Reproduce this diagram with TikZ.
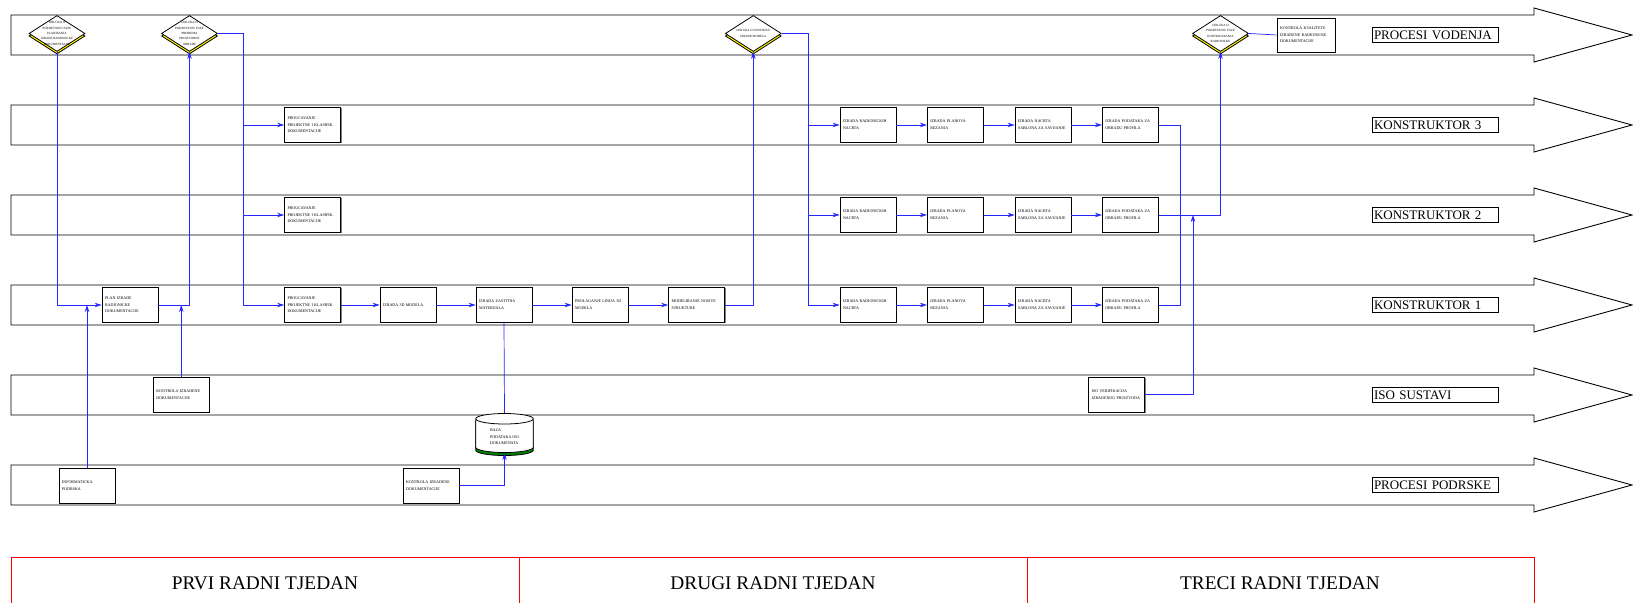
\documentclass[tikz,border=0pt]{standalone}
\usepackage{fontspec}
\setmainfont{Liberation Serif}
\usetikzlibrary{shapes.geometric,shadows,arrows.meta}
\begin{document}
\begin{tikzpicture}[x=0.2mm,y=-0.2mm,>={Stealth[length=1.4mm,width=0.9mm]},
    flow/.style={blue!85!white,line width=0.4pt},
    lane/.style={draw=black,line width=0.5pt,fill=white},
    lanelabel/.style={draw,line width=0.45pt,font=\fontsize{7.4}{8}\selectfont,text width=24.4mm,inner sep=0.4mm,minimum height=3mm,align=left},
    task/.style={draw,fill=white,line width=0.45pt,font=\fontsize{2.3}{3.8}\selectfont,text width=10mm,inner sep=0.6mm,minimum height=7mm,align=left,
        drop shadow={shadow xshift=0.2mm,shadow yshift=-0.2mm,opacity=1,fill=gray}},
    decision/.style={diamond,draw,fill=white,line width=0.45pt,minimum width=11.2mm,minimum height=7.2mm,inner sep=0pt,
        copy shadow={shadow xshift=0mm,shadow yshift=-0.5mm,fill=yellow,draw=black,line width=0.45pt,opacity=1}},
    dtext/.style={font=\fontsize{1.8}{3}\selectfont,align=center,inner sep=0pt},
    store/.style={cylinder,shape border rotate=90,aspect=0.3,draw,fill=white,line width=0.45pt,minimum width=11.5mm,minimum height=7.8mm,
        font=\fontsize{2.3}{3.8}\selectfont,align=left,inner sep=0.6mm,
        copy shadow={shadow xshift=0mm,shadow yshift=-0.6mm,fill=green!50!black,draw=black,line width=0.45pt,opacity=1}},
    week/.style={font=\fontsize{11}{13}\selectfont}]
\useasboundingbox (0,0) rectangle (1633,603);
% lanes
\foreach \y/\lane/\txt in {35/vod/PROCESI VODENJA,125/k3/KONSTRUKTOR 3,215/k2/KONSTRUKTOR 2,305/k1/KONSTRUKTOR 1,395/iso/ISO SUSTAVI,485/pod/PROCESI PODRSKE}{
    \draw[lane] (11,\y-20) -- (1534,\y-20) -- (1534,\y-27) -- (1632,\y) -- (1534,\y+27) -- (1534,\y+20) -- (11,\y+20) -- cycle;
    \node[lanelabel] (lbl-\lane) at (1435,\y) {\txt};
}
% weeks
\draw[red,line width=0.5pt] (11,603) -- (11,557) -- (1534,557) -- (1534,603);
\draw[red,line width=0.5pt] (519,557) -- (519,603) (1027,557) -- (1027,603);
\node[week] (w1) at (265,583) {PRVI RADNI TJEDAN};
\node[week] (w2) at (773,583) {DRUGI RADNI TJEDAN};
\node[week] (w3) at (1280,583) {TRECI RADNI TJEDAN};
% decisions
\node[decision,label={[dtext]center:{ODLUKA O\\POKRETANJU FAZE\\PLANIRANJA\\IZRADE RADIONICKE\\DOKUMENTACIJE}}] (d1) at (57,33.5) {};
\node[decision,label={[dtext]center:{ODLUKA O\\POKRETANJU FAZE\\PRIPREMA\\PROIZVODNE\\OBRADE}}] (d2) at (189.5,33.5) {};
\node[decision,label={[dtext]center:{ODLUKA O NASTAVKU\\IZRADE MODELA}}] (d3) at (753.3,33.5) {};
\node[decision,label={[dtext]center:{ODLUKA O\\POKRETANJU FAZE\\KONTROLIRANJA\\RADIONICKE}}] (d4) at (1220.5,33.5) {};
\node[task,minimum width=11.6mm,text width=10.4mm,minimum height=6.8mm] (kk) at (1306,35) {KONTROLA KVALITETE\\IZRADENE RADIONICKE\\DOKUMENTACIJE};
% tasks
\node[task] (plan) at (130,305) {PLAN IZRADE\\RADIONICKE\\DOKUMENTACIJE};
\node[task] (p3) at (312.5,125) {PROUCAVANJE\\PROJEKTNE I KLASIFIK.\\DOKUMENTACIJE};
\node[task] (p2) at (312.5,215) {PROUCAVANJE\\PROJEKTNE I KLASIFIK.\\DOKUMENTACIJE};
\node[task] (p1) at (312.5,305) {PROUCAVANJE\\PROJEKTNE I KLASIFIK.\\DOKUMENTACIJE};
\node[task] (m1) at (408,305) {IZRADA 3D MODELA};
\node[task] (m2) at (504,305) {IZRADA ZASTITNA\\MATERIJALA};
\node[task] (m3) at (600,305) {PROLAGANJE LINIJA 3D\\MODELA};
\node[task] (m4) at (696.5,305) {MODELIRANJE NOSIVE\\STRUKTURE};
\node[task] (kid) at (181.3,394.5) {KONTROLA IZRADENE\\DOKUMENTACIJE};
\node[task] (isov) at (1116.7,394.5) {ISO VERIFIKACIJA\\IZRADENOG PROIZVODA};
\node[task] (info) at (87,485.5) {INFORMATICKA\\PODRSKA};
\node[task] (kd) at (431,485.5) {KONTROLA IZRADENE\\DOKUMENTACIJE};
\node[store] (db) at (504.5,437) {BAZA\\PODATAKA ISO\\DOKUMENATA};
\coordinate (j2) at (243,33.5);
\coordinate (j3) at (808,33.5);
\coordinate (mrg) at (1180,215);
\coordinate (isoj) at (1193,215);
\foreach \y/\r in {125/k3,215/k2,305/k1}{
    \node[task] (\r-a) at (868,\y) {IZRADA RADIONICKIH\\NACRTA};
    \node[task] (\r-b) at (955.3,\y) {IZRADA PLANOVA\\REZANJA};
    \node[task] (\r-c) at (1043,\y) {IZRADA NACRTA\\SABLONA ZA SAVIJANJE};
    \node[task] (\r-d) at (1130.3,\y) {IZRADA PODATAKA ZA\\OBRADU PROFILA};
    \draw[flow,->] (j3) |- (\r-a);
    \draw[flow,->] (\r-a) -- (\r-b);
    \draw[flow,->] (\r-b) -- (\r-c);
    \draw[flow,->] (\r-c) -- (\r-d);
}
% connectors
\draw[flow,->] (d1.south) |- (plan.west);
\draw[flow,->] (info.north) -- (info.north |- plan.west);
\draw[flow,->] (plan.east) -| (d2.south);
\draw[flow,->] (kid.north) -- (kid.north |- plan.east);
\draw[flow] (d2.east) -- (j2);
\draw[flow,->] (j2) |- (p3);
\draw[flow,->] (j2) |- (p2);
\draw[flow,->] (j2) |- (p1);
\draw[flow,->] (p1) -- (m1);
\draw[flow,->] (m1) -- (m2);
\draw[flow,->] (m2) -- (m3);
\draw[flow,->] (m3) -- (m4);
\draw[flow,->] (m4.east) -| (d3.south);
\draw[flow] (d3.east) -- (j3);
\draw[flow] (m2.south) -- (db.north);
\draw[flow,->] (kd.east) -| (db.south);
\draw[flow] (k3-d.east) -| (mrg);
\draw[flow] (k1-d.east) -| (mrg);
\draw[flow,->] (k2-d.east) -| (d4.south);
\draw[flow,->] (isov.east) -| (isoj);
\draw[flow] (d4.east) -- (kk.west);
\end{tikzpicture}
\end{document}
